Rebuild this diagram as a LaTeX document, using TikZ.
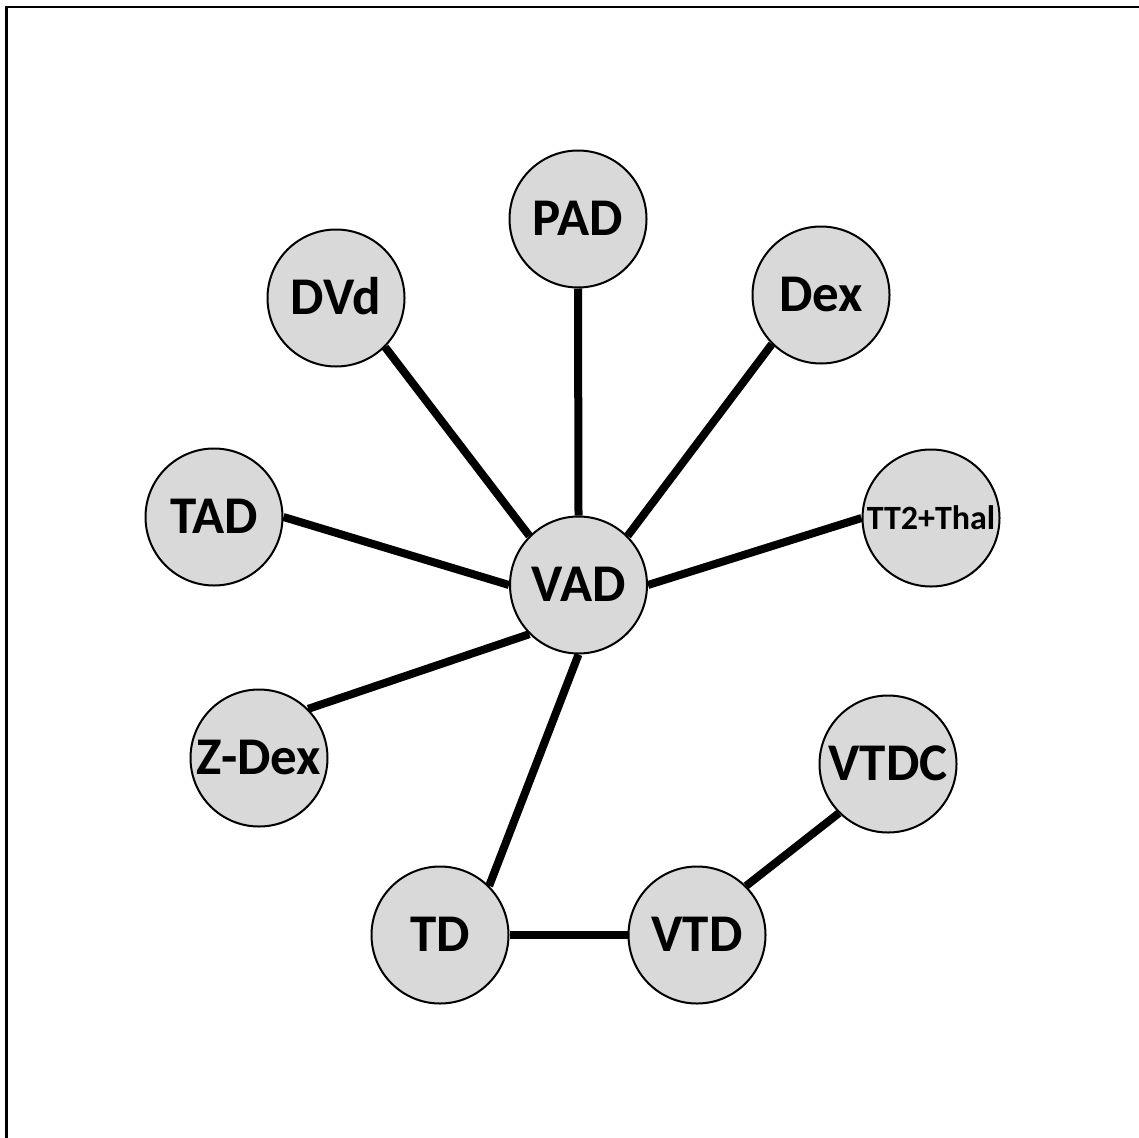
\documentclass[tikz,border=0pt]{standalone}
\usepackage{fontspec}
\setmainfont{Carlito}
\definecolor{ndgray}{HTML}{D9D9D9}
\begin{document}
\begin{tikzpicture}[x=1pt,y=-1pt,
  nd/.style={circle,draw=black,line width=2pt,fill=ndgray,minimum size=137pt,inner sep=0pt,
    font=\fontsize{53}{60}\selectfont\bfseries,text height=33pt,text depth=0pt},
  ndsmall/.style={nd,font=\fontsize{34}{40}\selectfont\bfseries,text height=22pt},
  ln/.style={line width=8pt}]
\useasboundingbox (0,0) rectangle (1139,1137);
\clip (0,0) rectangle (1139,1137);
\draw[line width=2.5pt] (6.5,7) rectangle (1170,1170);

\node[nd] (pad) at (578,219) {PAD};
\node[nd] (dvd) at (336,298) {DVd};
\node[nd] (dex) at (821,295) {Dex};
\node[nd] (tad) at (214,517) {TAD};
\node[nd] (vad) at (578.5,585) {VAD};
\node[ndsmall] (tt) at (931,518) {TT2+Thal};
\node[nd] (zdex) at (259,758) {Z-Dex};
\node[nd] (vtdc) at (888,764) {VTDC};
\node[nd] (td) at (440,935) {TD};
\node[nd] (vtd) at (697,935) {VTD};

\draw[ln] (pad.south) -- (vad.north);
\draw[ln] (dvd.south east) -- (vad.north west);
\draw[ln] (dex.south west) -- (vad.north east);
\draw[ln] (tad.east) -- (vad.west);
\draw[ln] (tt.west) -- (vad.east);
\draw[ln] (zdex.north east) -- (vad.south west);
\draw[ln] (td.north east) -- (vad.south);
\draw[ln] (td.east) -- (vtd.west);
\draw[ln] (vtd.north east) -- (vtdc.south west);
\end{tikzpicture}
\end{document}
